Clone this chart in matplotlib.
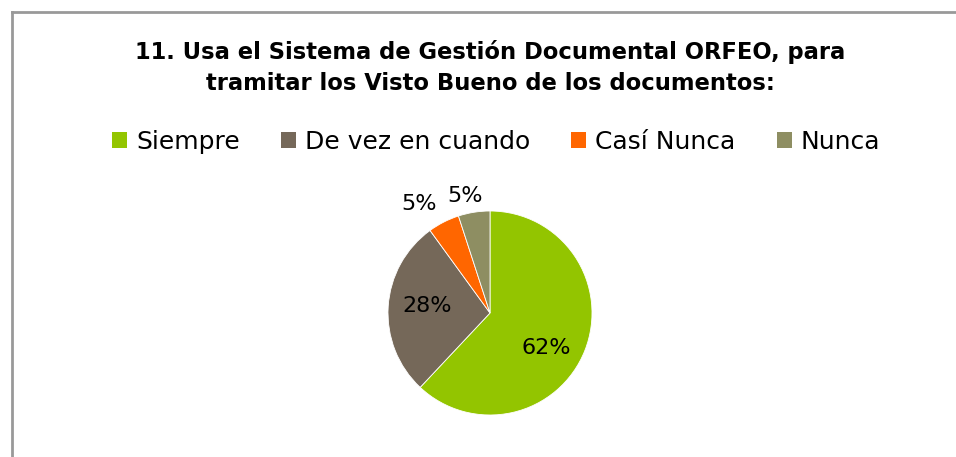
import numpy as np
import matplotlib.pyplot as plt
from matplotlib.patches import Patch
from matplotlib.lines import Line2D

# data
categories = ['Siempre', 'De vez en cuando', 'Casí Nunca', 'Nunca']
values = [62, 28, 5, 5]
colors = ['#93C500', '#756859', '#FF6600', '#8E8E62']

# label placement (distance from center in radii, angle shift in degrees)
label_dist = [0.65, 0.62, 1.28, 1.17]
label_shift = [-10, -3, 6, 3]

fig = plt.figure(figsize=(9.56, 4.57), dpi=100)
plt.rcParams['font.family'] = ['DejaVu Sans']

# chart frame (top and left edges visible)
fig.add_artist(Line2D([11.5/956, 1.0], [1 - 12/457, 1 - 12/457], color='#999999', lw=2))
fig.add_artist(Line2D([11.5/956, 11.5/956], [0, 1 - 12/457], color='#999999', lw=2))

fig.text(490/956, 1 - 52/457, '11. Usa el Sistema de Gestión Documental ORFEO, para',
         ha='center', va='center', fontsize=16.3, fontweight='bold')
fig.text(490/956, 1 - 84/457, 'tramitar los Visto Bueno de los documentos:',
         ha='center', va='center', fontsize=16.3, fontweight='bold')

# pie axes: center (490, 313), radius ~102 px
r = 102
ax = fig.add_axes([(490 - r)/956, (457 - 313 - r)/457, 2*r/956, 2*r/457])
wedges, _ = ax.pie(values, colors=colors, startangle=90, counterclock=False,
                   wedgeprops=dict(edgecolor='white', linewidth=0.6))
ax.set_xlim(-1, 1)
ax.set_ylim(-1, 1)
ax.set_aspect('equal')

for w, v, d, s in zip(wedges, values, label_dist, label_shift):
    ang = np.deg2rad((w.theta1 + w.theta2) / 2 + s)
    ax.text(d*np.cos(ang), d*np.sin(ang), f'{v}%', ha='center', va='center',
            fontsize=16, clip_on=False)

handles = [Patch(facecolor=c, edgecolor='none') for c in colors]
fig.legend(handles, categories, loc='center', bbox_to_anchor=(496/956, 1 - 142/457),
           ncol=4, frameon=False, fontsize=18, handlelength=0.6, handleheight=0.6,
           handletextpad=0.35, columnspacing=1.65)

fig.savefig('out.png', dpi=100)
